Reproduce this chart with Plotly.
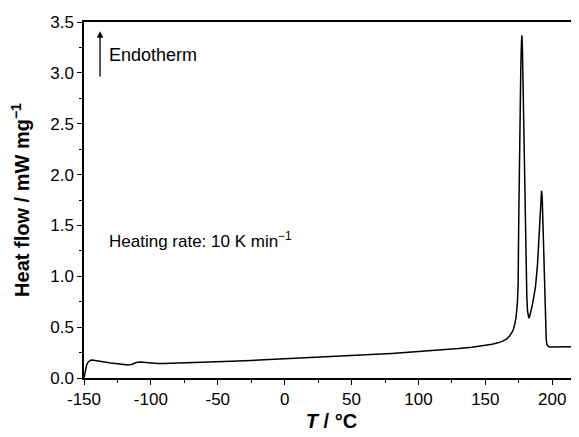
import plotly.graph_objects as go

temperature = [-150, -149, -148, -147, -146, -145, -144, -142, -140, -135, -130, -125, -120, -117,
               -114, -111, -108, -105, -102, -98, -95, -90, -80, -70, -60, -50, -40, -30, -20, -10,
               0, 10, 20, 30, 40, 50, 60, 70, 80, 90, 100, 110, 120, 130, 140, 150, 155, 160, 163,
               166, 168, 170, 171, 172, 173, 174, 174.5, 175, 175.5, 176, 176.5, 177, 177.3, 177.7,
               178, 178.5, 179, 179.5, 180, 180.5, 181, 181.5, 182, 182.5, 183, 184, 185, 186, 187.5,
               189, 190, 191, 191.5, 192, 192.5, 193, 193.5, 194, 194.5, 195, 195.5, 196, 196.5, 197,
               198, 200, 205, 210, 215, 220]
heat_flow = [0.0, 0.08, 0.13, 0.155, 0.168, 0.175, 0.177, 0.172, 0.165, 0.155, 0.147, 0.140, 0.132, 0.128,
             0.135, 0.152, 0.158, 0.155, 0.148, 0.143, 0.142, 0.143, 0.146, 0.150, 0.155, 0.160, 0.165, 0.170, 0.176, 0.181,
             0.187, 0.193, 0.200, 0.206, 0.213, 0.220, 0.227, 0.234, 0.242, 0.250, 0.258, 0.267, 0.277, 0.289, 0.303, 0.320, 0.332, 0.348, 0.362,
             0.385, 0.41, 0.45, 0.48, 0.53, 0.60, 0.75, 0.93, 1.6, 2.2, 2.7, 3.05, 3.30, 3.37, 3.25,
             3.0, 2.55, 2.08, 1.65, 1.3, 1.0, 0.8, 0.66, 0.60, 0.59, 0.60, 0.65, 0.71, 0.78, 0.90,
             1.12, 1.38, 1.66, 1.78, 1.84, 1.78, 1.55, 1.2, 0.9, 0.65, 0.48, 0.38, 0.33, 0.315, 0.31,
             0.305, 0.305, 0.306, 0.307, 0.308, 0.308]

x_ticks = [-150, -100, -50, 0, 50, 100, 150, 200]
x_tick_labels = ["-150", "-100", "-50", "0", "50", "100", "150", "200"]
y_ticks = [0.0, 0.5, 1.0, 1.5, 2.0, 2.5, 3.0, 3.5]
y_tick_labels = ["0.0", "0.5", "1.0", "1.5", "2.0", "2.5", "3.0", "3.5"]

FONT = "Liberation Sans, Arial, sans-serif"

fig = go.Figure()
fig.add_trace(go.Scatter(x=temperature, y=heat_flow, mode="lines",
                         line=dict(color="black", width=1.5), showlegend=False))

fig.add_annotation(x=-138, y=3.41, ax=-138, ay=2.95, xref="x", yref="y", axref="x", ayref="y",
                   text="", showarrow=True, arrowhead=2, arrowsize=1, arrowwidth=1.3, arrowcolor="black")
fig.add_annotation(x=-132.5, y=3.18, xref="x", yref="y", text="Endotherm", showarrow=False,
                   xanchor="left", yanchor="middle", font=dict(family=FONT, size=18, color="black"))
fig.add_annotation(x=-132.8, y=1.36, xref="x", yref="y", text="Heating rate: 10 K min<sup>\u22121</sup>",
                   showarrow=False, xanchor="left", yanchor="middle",
                   font=dict(family=FONT, size=17, color="black"))

# The page body has an 8px margin, so the figure is sized/offset to compensate.
fig.update_layout(
    width=571, height=429,
    margin=dict(l=76, r=0, t=14, b=59),
    plot_bgcolor="white", paper_bgcolor="white",
    font=dict(family=FONT, size=17, color="black"),
    xaxis=dict(range=[-150, 220], tickvals=x_ticks, ticktext=x_tick_labels, ticks="outside", ticklen=5,
               tickwidth=1.2, tickcolor="black", showline=True, linecolor="black", linewidth=1.5,
               mirror=True, showgrid=False, zeroline=False, tickfont=dict(size=17),
               minor=dict(dtick=25, tick0=-150, ticks="outside", ticklen=3, tickcolor="black", tickwidth=1.2),
               title=dict(text="<b><i>T</i> / °C</b>", font=dict(size=20), standoff=6)),
    yaxis=dict(range=[0, 3.5], tickvals=y_ticks, ticktext=y_tick_labels, ticks="outside", ticklen=5,
               tickwidth=1.2, tickcolor="black", showline=True, linecolor="black", linewidth=1.5,
               mirror=False, showgrid=False, zeroline=False, tickfont=dict(size=17),
               minor=dict(dtick=0.25, tick0=0, ticks="outside", ticklen=3, tickcolor="black", tickwidth=1.2),
               title=dict(text="<b>Heat flow / mW mg<sup>\u22121</sup></b>", font=dict(size=20), standoff=16)),
)

fig.write_html("out.html")
